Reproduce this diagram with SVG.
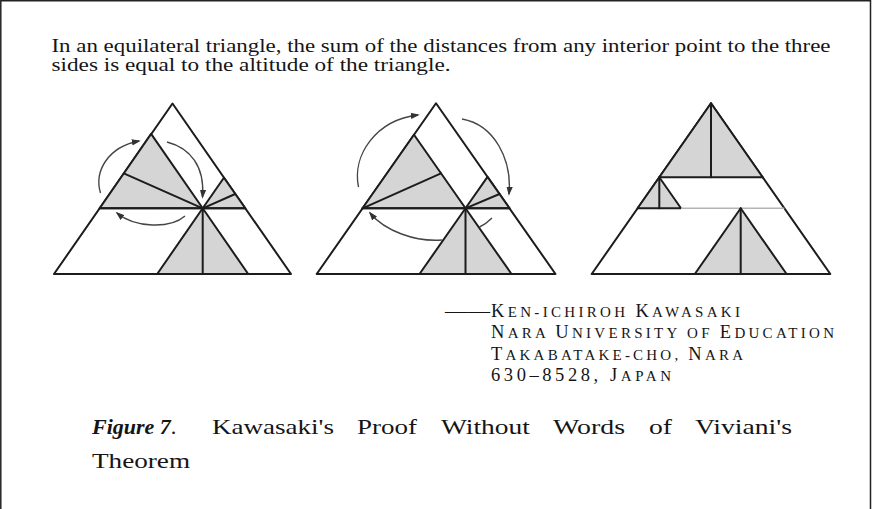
<svg xmlns="http://www.w3.org/2000/svg" width="872" height="509" viewBox="0 0 872 509">
<style>
.ol{fill:#fff;stroke:#1c1c1c;stroke-width:2;stroke-linejoin:round}
.sh{fill:#d5d5d5;stroke:#1c1c1c;stroke-width:2;stroke-linejoin:round}
.ln{stroke:#1c1c1c;stroke-width:2;fill:none;stroke-linecap:round}
.lt{stroke:#b4b4b4;stroke-width:1.6;fill:none}
.arc{stroke:#454545;stroke-width:1.4;fill:none;marker-end:url(#ah)}
.arc0{stroke:#454545;stroke-width:1.4;fill:none}
.tx{font-family:"Liberation Serif","Times New Roman",serif;font-size:19px;fill:#151515}
.au{font-family:"Liberation Serif","Times New Roman",serif;font-size:18.5px;fill:#151515}
.sc{font-size:15px}
.cap{font-family:"Liberation Serif","Times New Roman",serif;font-size:22px;fill:#151515}
.fig{font-weight:bold;font-style:italic}
</style>
<defs>
<marker id="ah" viewBox="0 0 10 10" refX="8" refY="5" markerWidth="9" markerHeight="9" markerUnits="userSpaceOnUse" orient="auto">
<path d="M0,1.5 L10,5 L0,8.5 z" fill="#333"/>
</marker>
</defs>
<rect width="872" height="509" fill="#fff"/>
<path d="M0.8,509 V0.8 H870.5 V509" fill="none" stroke="#222" stroke-width="1.5"/>

<g id="statement">
<text class="tx" x="51.5" y="52" textLength="779" lengthAdjust="spacingAndGlyphs">In an equilateral triangle, the sum of the distances from any interior point to the three</text>
<text class="tx" x="51.5" y="71" textLength="399" lengthAdjust="spacingAndGlyphs">sides is equal to the altitude of the triangle.</text>
</g>

<g id="triangle-1">
<polygon class="ol" points="172.5,103.5 54,274 291,274"/>
<polygon class="sh" points="99.7,208.3 151.1,133.9 202.7,208.3"/>
<polygon class="sh" points="202.7,208.3 223.9,177.7 245.3,208.3"/>
<polygon class="sh" points="202.7,208.3 157.2,274 248.2,274"/>
<line class="ln" x1="99.7" y1="208.3" x2="245.3" y2="208.3"/>
<line class="ln" x1="123.8" y1="173.3" x2="202.7" y2="208.3"/>
<line class="ln" x1="235.2" y1="194" x2="202.7" y2="208.3"/>
<line class="ln" x1="202.7" y1="208.3" x2="202.7" y2="274"/>
</g>

<g id="triangle-2">
<polygon class="ol" points="436,103.3 316.7,274 555.5,274"/>
<polygon class="sh" points="362.5,208.3 414,134.7 465.5,208.3"/>
<polygon class="sh" points="465.5,208.3 487.5,176.9 509.5,208.3"/>
<polygon class="sh" points="465.5,208.3 419.5,274 511.5,274"/>
<line class="ln" x1="362.5" y1="208.3" x2="509.5" y2="208.3"/>
<line class="ln" x1="362.5" y1="208.3" x2="441" y2="173.3"/>
<line class="ln" x1="499.5" y1="194" x2="465.5" y2="208.3"/>
<line class="ln" x1="465.5" y1="208.3" x2="465.5" y2="274"/>
</g>

<g id="triangle-3">
<polygon class="ol" points="711,103.3 591.7,274 830.3,274"/>
<polygon class="sh" points="711,103.3 659.3,177.3 762.7,177.3"/>
<line class="ln" x1="711" y1="103.3" x2="711" y2="177.3"/>
<polygon class="sh" points="659.3,177.3 637.6,208.3 681,208.3"/>
<line class="ln" x1="659.3" y1="177.3" x2="659.3" y2="208.3"/>
<line class="lt" x1="681" y1="208.3" x2="784.4" y2="208.3"/>
<polygon class="sh" points="740.7,208.3 694.8,274 786.6,274"/>
<line class="ln" x1="740.7" y1="208.3" x2="740.7" y2="274"/>
</g>

<g id="connectors">
<path class="arc" d="M100.5,193 C94,171 108,147 139,141"/>
<path class="arc" d="M167,142 C190,148 205,166 202.5,197"/>
<path class="arc" d="M185,216 C170,229 135,228 117,213"/>
<path class="arc" d="M358.5,187 C352,155 376,120 418,115"/>
<path class="arc" d="M462,119 C495,125 512,160 509,194"/>
<path class="arc" d="M442,240 C415,242 385,231 370,213"/>
<path class="arc0" d="M479.5,227 Q486,224 492,218"/>
</g>

<g id="author">
<text class="au" x="445" y="317" textLength="45" lengthAdjust="spacingAndGlyphs">——</text>
<text class="au" x="491" y="317" textLength="249" lengthAdjust="spacing">K<tspan class="sc">EN-ICHIROH </tspan>K<tspan class="sc">AWASAKI</tspan></text>
<text class="au" x="491" y="338" textLength="343" lengthAdjust="spacing">N<tspan class="sc">ARA </tspan>U<tspan class="sc">NIVERSITY OF </tspan>E<tspan class="sc">DUCATION</tspan></text>
<text class="au" x="491" y="359.5" textLength="252" lengthAdjust="spacing">T<tspan class="sc">AKABATAKE-CHO, </tspan>N<tspan class="sc">ARA</tspan></text>
<text class="au" x="491" y="381" textLength="180" lengthAdjust="spacing">630–8528, J<tspan class="sc">APAN</tspan></text>
</g>

<g id="caption">
<text class="cap" x="92" y="434"><tspan class="fig">Figure 7</tspan>.</text>
<text class="cap" x="212" y="434" textLength="122" lengthAdjust="spacingAndGlyphs">Kawasaki's</text>
<text class="cap" x="357" y="434" textLength="60" lengthAdjust="spacingAndGlyphs">Proof</text>
<text class="cap" x="441" y="434" textLength="89" lengthAdjust="spacingAndGlyphs">Without</text>
<text class="cap" x="553" y="434" textLength="72" lengthAdjust="spacingAndGlyphs">Words</text>
<text class="cap" x="649" y="434" textLength="23" lengthAdjust="spacingAndGlyphs">of</text>
<text class="cap" x="695" y="434" textLength="97" lengthAdjust="spacingAndGlyphs">Viviani's</text>
<text class="cap" x="92" y="468" textLength="98" lengthAdjust="spacingAndGlyphs">Theorem</text>
</g>
</svg>
